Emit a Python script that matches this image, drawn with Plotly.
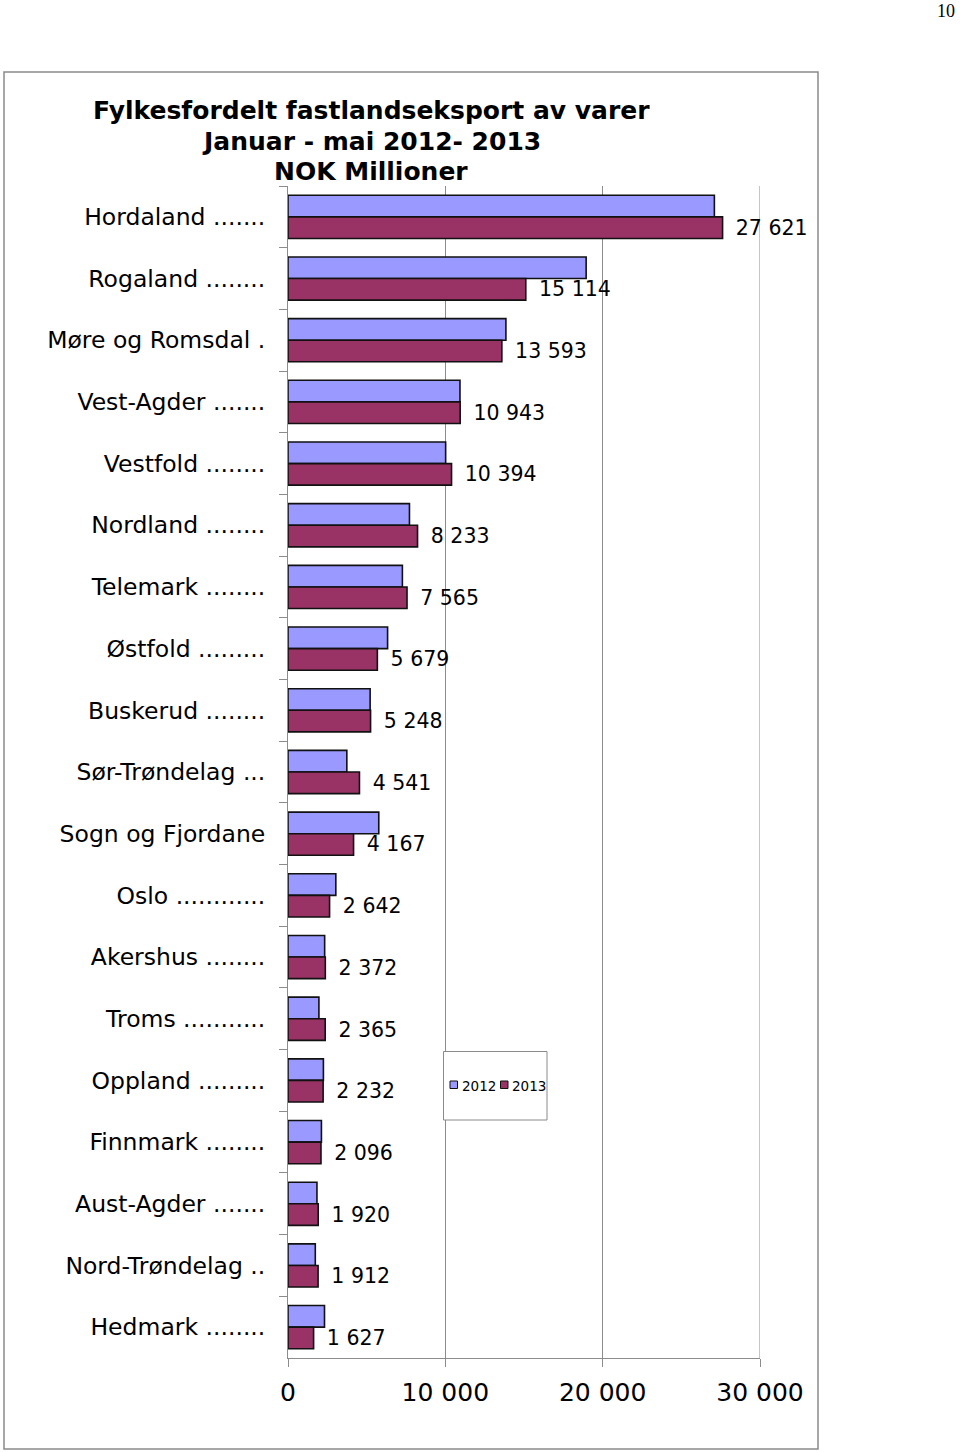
import plotly.graph_objects as go

categories = [
    "Hordaland .......",
    "Rogaland ........",
    "Møre og Romsdal .",
    "Vest-Agder .......",
    "Vestfold ........",
    "Nordland ........",
    "Telemark ........",
    "Østfold .........",
    "Buskerud ........",
    "Sør-Trøndelag ...",
    "Sogn og Fjordane",
    "Oslo ............",
    "Akershus ........",
    "Troms ...........",
    "Oppland .........",
    "Finnmark ........",
    "Aust-Agder .......",
    "Nord-Trøndelag ..",
    "Hedmark ........",
]
values_2012 = [27100, 18950, 13850, 10930, 10020, 7720, 7270, 6330, 5220, 3740,
               5770, 3040, 2330, 1965, 2250, 2125, 1840, 1735, 2320]
values_2013 = [27621, 15114, 13593, 10943, 10394, 8233, 7565, 5679, 5248, 4541,
               4167, 2642, 2372, 2365, 2232, 2096, 1920, 1912, 1627]
series_names = ["2012", "2013"]
x_ticks = [0, 10000, 20000, 30000]
title_lines = ["Fylkesfordelt fastlandseksport av varer",
               "Januar - mai 2012- 2013",
               "NOK Millioner"]
page_number = "10"

COL_2012 = "#9999FF"
COL_2013 = "#993366"
OUTLINE = "#111111"
GRID = "#8C8C8C"
FONT = "DejaVu Sans"

W, H = 960, 1452
L, R, T, B = 288, 760, 186, 1358


def px(x):
    return (x - L) / (R - L)


def py(y):
    return (B - y) / (B - T)


fig = go.Figure()
fig.add_trace(go.Bar(
    y=categories, x=values_2012, name=series_names[0], orientation="h",
    marker=dict(color=COL_2012, line=dict(color=OUTLINE, width=1.6)),
))
fig.add_trace(go.Bar(
    y=categories, x=values_2013, name=series_names[1], orientation="h",
    marker=dict(color=COL_2013, line=dict(color=OUTLINE, width=1.6)),
    texttemplate="\u2002%{x:,.0f}", textposition="outside",
    outsidetextfont=dict(family=FONT, size=20.5, color="black"),
    cliponaxis=False, constraintext="none",
))

shapes = [
    # outer frame
    dict(type="rect", xref="paper", yref="paper",
         x0=px(4), x1=px(818), y0=py(1449), y1=py(72),
         line=dict(color="#8A8A8A", width=1.5), fillcolor="rgba(0,0,0,0)", layer="below"),
    # gridline at the last tick (plotly clips the one on the plot edge)
    dict(type="line", xref="x", yref="paper",
         x0=x_ticks[-1], x1=x_ticks[-1], y0=0, y1=1,
         line=dict(color=GRID, width=1), layer="below"),
    # legend box
    dict(type="rect", xref="paper", yref="paper",
         x0=px(443.5), x1=px(547), y0=py(1120), y1=py(1051.5),
         line=dict(color="#8A8A8A", width=1), fillcolor="white", layer="above"),
    dict(type="rect", xref="paper", yref="paper",
         x0=px(450), x1=px(457.5), y0=py(1088.5), y1=py(1081),
         line=dict(color=OUTLINE, width=1), fillcolor=COL_2012, layer="above"),
    dict(type="rect", xref="paper", yref="paper",
         x0=px(500.5), x1=px(508), y0=py(1088.5), y1=py(1081),
         line=dict(color=OUTLINE, width=1), fillcolor=COL_2013, layer="above"),
]

annotations = []
for txt, yc in zip(title_lines, [111, 141, 172]):
    annotations.append(dict(
        text="<b>%s</b>" % txt, xref="paper", yref="paper", x=px(371), y=py(yc),
        xanchor="center", yanchor="middle", showarrow=False,
        font=dict(family=FONT, size=25, color="black")))
annotations.append(dict(
    text=page_number, xref="paper", yref="paper", x=px(957), y=py(11),
    xanchor="right", yanchor="middle", showarrow=False,
    font=dict(family="Liberation Serif", size=18, color="black")))
annotations.append(dict(
    text=series_names[0], xref="paper", yref="paper", x=px(459.5), y=py(1085.5),
    xanchor="left", yanchor="middle", showarrow=False,
    font=dict(family=FONT, size=13.5, color="black")))
annotations.append(dict(
    text=series_names[1], xref="paper", yref="paper", x=px(510), y=py(1085.5),
    xanchor="left", yanchor="middle", showarrow=False,
    font=dict(family=FONT, size=13.5, color="black")))

fig.update_layout(
    width=W, height=H, autosize=False,
    margin=dict(l=L, r=W - R, t=T, b=H - B, pad=0),
    paper_bgcolor="white", plot_bgcolor="white",
    barmode="group", bargap=0.3, bargroupgap=0,
    separators=", ",
    showlegend=False,
    font=dict(family=FONT, color="black"),
    shapes=shapes, annotations=annotations,
    xaxis=dict(
        range=[0, 30000], tickvals=x_ticks, tickformat=",d",
        showgrid=True, gridcolor=GRID, gridwidth=1,
        showline=True, linecolor=GRID, linewidth=1,
        ticks="outside", ticklen=8, tickcolor=GRID, tickwidth=1,
        zeroline=False, tickfont=dict(family=FONT, size=25, color="black"),
        ticklabelstandoff=4,
    ),
    yaxis=dict(
        type="category", categoryorder="array", categoryarray=categories,
        autorange="reversed", tickson="boundaries",
        showgrid=False, showline=True, linecolor=GRID, linewidth=1,
        ticks="outside", ticklen=8, tickcolor=GRID, tickwidth=1,
        tickfont=dict(family=FONT, size=23.5, color="black"),
        ticklabelstandoff=17,
    ),
)

fig.write_html("out.html")
